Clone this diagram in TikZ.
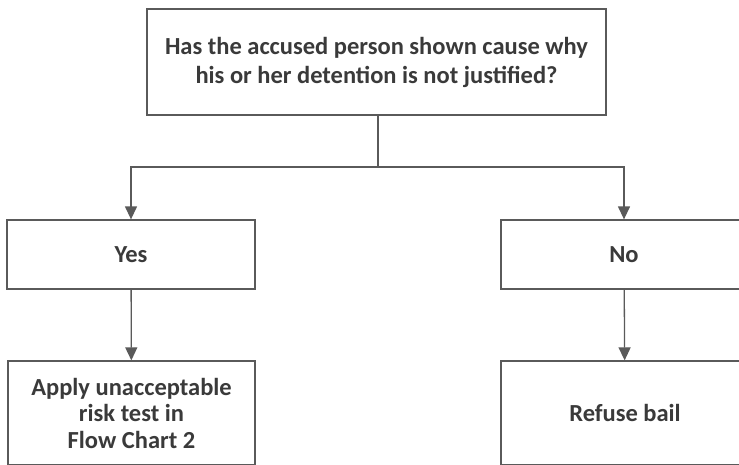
\documentclass[tikz,border=0pt]{standalone}
\usepackage{fontspec}
\setmainfont{Carlito}
\usetikzlibrary{arrows.meta}
\definecolor{ln}{HTML}{5A5A5A}
\definecolor{tx}{HTML}{3A3A3A}
\begin{document}
\begin{tikzpicture}[x=1pt,y=1pt,
  box/.style={draw=ln, line width=1.3pt, rectangle, inner sep=0pt, align=center,
    text=tx, font=\fontsize{24.5}{29}\selectfont\bfseries},
  conn/.style={draw=ln, line width=1.3pt},
  arr/.style={conn, -{Triangle[width=12pt,length=13pt]}}]
\useasboundingbox (0,0) rectangle (739,-464);
\clip (0,0) rectangle (739,-464);
\fill[white] (0,0) rectangle (739,-464);
\node[box, minimum width=459pt, minimum height=106pt] (top) at (376.5,-62)
  {Has the accused person shown cause why\\his or her detention is not justified?};
\node[box, minimum width=248pt, minimum height=69pt] (yes) at (131,-254.5) {Yes};
\node[box, minimum width=246pt, minimum height=69pt] (no) at (624,-254.5) {No};
\node[box, minimum width=247pt, minimum height=104pt,
  font=\fontsize{24.5}{26.5}\selectfont\bfseries] (apply) at (131.5,-413)
  {Apply unacceptable\\risk test in\\Flow Chart 2};
\node[box, minimum width=248pt, minimum height=104pt] (refuse) at (625,-413) {Refuse bail};
\coordinate (j) at (378,-167);
\draw[conn] (top.south -| j) -- (j);
\draw[arr] (j) -| (yes.north);
\draw[arr] (j) -| (no.north);
\draw[arr] (yes) -- (apply);
\draw[arr] (no) -- (refuse);
\end{tikzpicture}
\end{document}
